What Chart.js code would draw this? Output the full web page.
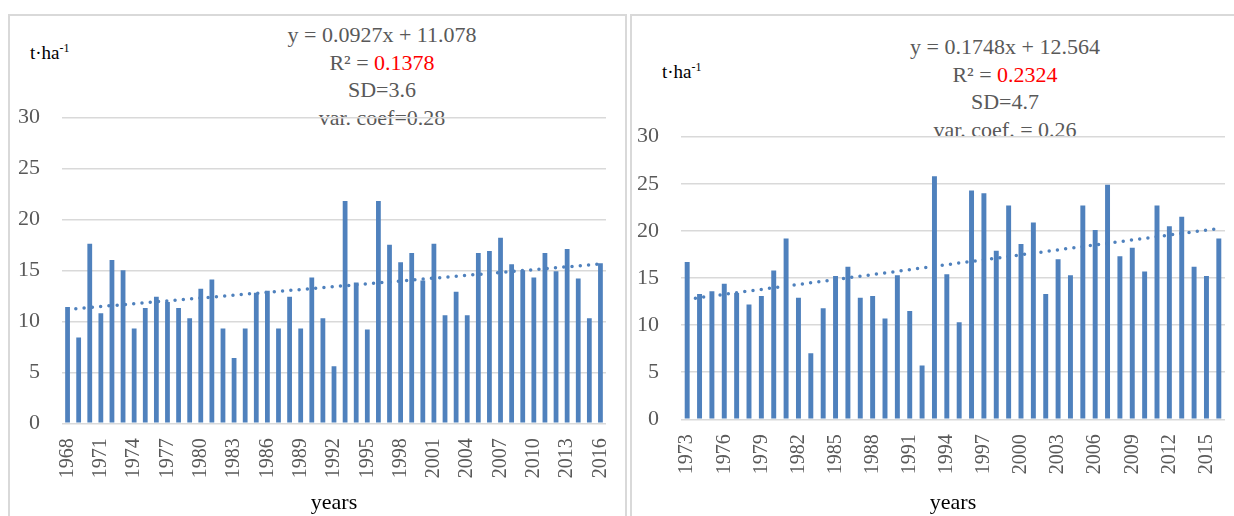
<!DOCTYPE html>
<html>
<head>
<meta charset="utf-8">
<title>Yield by years</title>
<script src="https://cdn.jsdelivr.net/npm/chart.js@4.4.1/dist/chart.umd.min.js"></script>
<style>
  html, body { margin: 0; padding: 0; background: #fff; }
  body { width: 1234px; height: 516px; position: relative; overflow: hidden; font-family: "Liberation Serif", "Times New Roman", serif; }
  .panel { position: absolute; top: 14px; height: 520px; border: 2px solid #d9d9d9; border-bottom: none; box-sizing: border-box; }
  .stats { position: absolute; width: 400px; text-align: center; font-size: 22px; line-height: 27.7px; color: #595959; white-space: nowrap; }
  .stats .red { color: #ff0000; }
  .unit { position: absolute; font-size: 19px; color: #000; white-space: nowrap; }
  .unit sup { font-size: 12px; vertical-align: 7px; }
  canvas { position: absolute; top: 0; }
</style>
</head>
<body>
<div class="panel" style="left:8px; width:619px;"></div>
<div class="panel" style="left:630px; width:620px; border-right:none;"></div>

<div class="unit" style="left:30px; top:41px;">t·ha<sup>-1</sup></div>
<div class="stats" style="left:182px; top:21px;">
  y = 0.0927x + 11.078<br>R² = <span class="red">0.1378</span><br>SD=3.6<br>var. coef=0.28
</div>
<div class="unit" style="left:662px; top:60px;">t·ha<sup>-1</sup></div>
<div class="stats" style="left:805px; top:33px;">
  y = 0.1748x + 12.564<br>R² = <span class="red">0.2324</span><br>SD=4.7<br>var. coef. = 0.26
</div>

<canvas id="chartLeft" style="left:0px;"></canvas>
<canvas id="chartRight" style="left:622px;"></canvas>

<script>
// ---- data ----
var yearsLeft = [];
for (var y = 1968; y <= 2016; y++) yearsLeft.push(String(y));
var yieldLeft = [
  11.4, 8.4, 17.6, 10.8, 16.0, 15.0, 9.3, 11.3, 12.4, 11.9,
  11.3, 10.3, 13.2, 14.1, 9.3, 6.4, 9.3, 12.8, 13.0, 9.3,
  12.4, 9.3, 14.3, 10.3, 5.6, 21.8, 13.8, 9.2, 21.8, 17.5,
  15.8, 16.7, 14.0, 17.6, 10.6, 12.9, 10.6, 16.7, 16.9, 18.2,
  15.6, 15.0, 14.3, 16.7, 14.9, 17.1, 14.2, 10.3, 15.7
];
// trend line ends (first / last year)
var trendLeft = [11.17, 15.62];

var yearsRight = [];
for (var y2 = 1973; y2 <= 2016; y2++) yearsRight.push(String(y2));
var yieldRight = [
  16.7, 13.3, 13.6, 14.4, 13.4, 12.2, 13.1, 15.8, 19.2, 12.9,
  7.0, 11.8, 15.2, 16.2, 12.9, 13.1, 10.7, 15.3, 11.5, 5.7,
  25.8, 15.4, 10.3, 24.3, 24.0, 17.9, 22.7, 18.6, 20.9, 13.3,
  17.0, 15.3, 22.7, 20.1, 24.9, 17.3, 18.2, 15.7, 22.7, 20.5,
  21.5, 16.2, 15.2, 19.2
];
var trendRight = [12.74, 20.26];

var yTicks = [0, 5, 10, 15, 20, 25, 30];

var BAR_BLUE = '#4f81bd';
var GRID = '#d9d9d9';
var TICK_GREY = '#595959';

function trendSeries(n, ends) {
  // only the two end points; the line is spanned between them
  var arr = new Array(n).fill(null);
  arr[0] = ends[0];
  arr[n - 1] = ends[1];
  return arr;
}

function makeChart(canvasId, cfg) {
  var canvas = document.getElementById(canvasId);
  canvas.width = cfg.width;
  canvas.height = 516;
  canvas.style.width = cfg.width + 'px';
  canvas.style.height = '516px';

  return new Chart(canvas, {
    data: {
      labels: cfg.labels,
      datasets: [
        {
          type: 'line',
          data: trendSeries(cfg.labels.length, cfg.trend),
          borderColor: BAR_BLUE,
          borderWidth: 3.5,
          borderDash: [0, 8.3],
          borderCapStyle: 'round',
          pointRadius: 0,
          spanGaps: true,
          fill: false,
          order: 0
        },
        {
          type: 'bar',
          data: cfg.values,
          backgroundColor: BAR_BLUE,
          barPercentage: cfg.barPct,
          categoryPercentage: 1,
          order: 1
        }
      ]
    },
    options: {
      responsive: false,
      animation: false,
      layout: { padding: { top: cfg.padTop, right: cfg.padRight, left: 0, bottom: 0 } },
      plugins: { legend: { display: false }, tooltip: { enabled: false } },
      scales: {
        x: {
          type: 'category',
          offset: true,
          grid: { display: false, drawTicks: false },
          border: { display: false },
          ticks: {
            autoSkip: false,
            maxRotation: 90,
            minRotation: 90,
            padding: cfg.xPad,
            color: TICK_GREY,
            font: { family: 'Liberation Serif', size: 20 },
            callback: function(v, i) { return i % 3 === 0 ? cfg.labels[i] : ''; }
          },
          title: {
            display: true,
            text: 'years',
            color: '#000',
            padding: { top: 0, bottom: 0 },
            font: { family: 'Liberation Serif', size: 22 }
          },
          afterFit: function(scale) {
            scale.height = cfg.xHeight;
            // keep the rotated labels from shrinking the plot width
            scale.paddingLeft = 0;
            scale.paddingRight = 0;
          }
        },
        y: {
          min: 0,
          max: 30,
          afterBuildTicks: function(scale) {
            scale.ticks = yTicks.map(function(v) { return { value: v }; });
          },
          grid: { color: GRID, lineWidth: 1.5, drawTicks: false },
          border: { display: false },
          ticks: {
            padding: 22,
            color: TICK_GREY,
            font: { family: 'Liberation Serif', size: 22 }
          },
          afterFit: function(scale) { scale.width = cfg.yWidth; }
        }
      }
    }
  });
}

makeChart('chartLeft', {
  width: 617, labels: yearsLeft, values: yieldLeft, trend: trendLeft,
  barPct: 0.43, padTop: 117.3, padRight: 11, xHeight: 92.7, yWidth: 62, xPad: 15
});
makeChart('chartRight', {
  width: 612, labels: yearsRight, values: yieldRight, trend: trendRight,
  barPct: 0.4, padTop: 136.7, padRight: 9, xHeight: 96.7, yWidth: 59, xPad: 15
});
</script>
</body>
</html>
